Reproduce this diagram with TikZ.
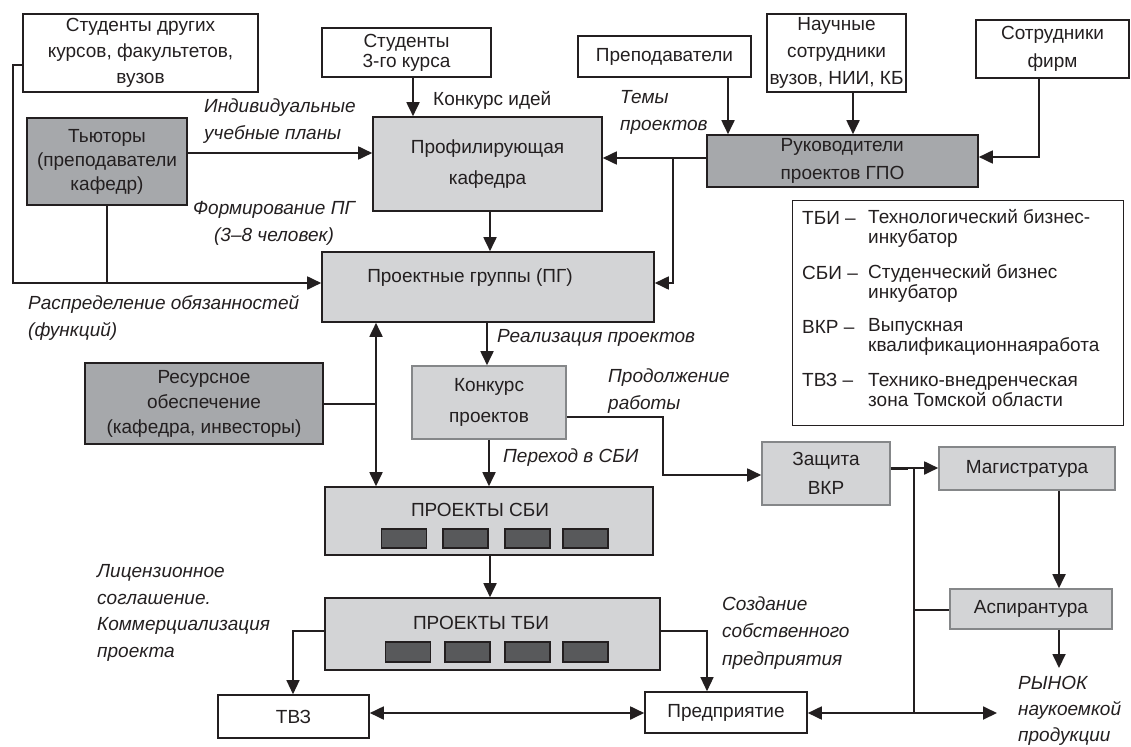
\documentclass[tikz,border=0pt]{standalone}
\usepackage{fontspec}
\setmainfont{Liberation Sans}
\usetikzlibrary{arrows.meta}
\definecolor{lg}{HTML}{D3D4D6}
\definecolor{dg}{HTML}{A6A8AB}
\definecolor{chipc}{HTML}{58595B}
\definecolor{ink}{HTML}{231F20}
\definecolor{gb}{HTML}{858789}
\begin{document}
\begin{tikzpicture}[x=1pt,y=-1pt,
  every node/.style={font=\fontsize{19}{24}\selectfont, text=ink},
  box/.style={draw=ink, line width=1.6pt, inner sep=0pt, align=center},
  lbox/.style={box, fill=lg},
  dbox/.style={box, fill=dg},
  gbox/.style={box, fill=lg, draw=gb},
  chip/.style={draw=ink, line width=1.3pt, fill=chipc, minimum width=45pt, minimum height=19pt, inner sep=0pt},
  conn/.style={draw=ink, line width=1.8pt},
  thin/.style={line width=1.3pt},
  arr/.style={conn, -{Triangle[length=14pt,width=13pt]}},
  arrb/.style={conn, {Triangle[length=14pt,width=13pt]}-{Triangle[length=14pt,width=13pt]}},
  lab/.style={font=\fontsize{19}{27}\selectfont\itshape, align=left, inner sep=0pt, anchor=west},
]
\useasboundingbox (0,0) rectangle (1131,746);

% top row
\node[box, minimum width=235pt, minimum height=78pt, font=\fontsize{19}{26}\selectfont] (sdr) at (140.5,53) {Студенты других\\курсов, факультетов,\\вузов};
\node[box, minimum width=169pt, minimum height=49pt, font=\fontsize{19}{20}\selectfont] (s3) at (406.5,52.5) {Студенты\\3-го курса};
\node[box, minimum width=173pt, minimum height=41pt] (prep) at (664.5,56.5) {Преподаватели};
\node[box, minimum width=139pt, minimum height=78pt, font=\fontsize{19}{27}\selectfont] (nauch) at (836.5,53) {Научные\\сотрудники\\вузов, НИИ, КБ};
\node[box, minimum width=153pt, minimum height=58pt, font=\fontsize{19}{28}\selectfont] (sotr) at (1052.5,49) {Сотрудники\\фирм};

% second row
\node[dbox, minimum width=160pt, minimum height=87pt, font=\fontsize{19}{24}\selectfont] (tut) at (107,161.5) {Тьюторы\\(преподаватели\\кафедр)};
\node[lbox, minimum width=229pt, minimum height=94pt, font=\fontsize{19}{31}\selectfont] (prof) at (487.5,164) {Профилирующая\\кафедра};
\node[dbox, minimum width=271pt, minimum height=52pt, font=\fontsize{19}{28}\selectfont, align=left] (ruk) at (842.5,161) {Руководители\\проектов ГПО};

% legend
\node[box, line width=1pt, minimum width=331pt, minimum height=225pt] (leg) at (957.5,312.5) {};
\node[anchor=west, inner sep=0pt] (la1) at (802,218) {ТБИ –};
\node[anchor=west, inner sep=0pt] (la2) at (802,273) {СБИ –};
\node[anchor=west, inner sep=0pt] (la3) at (802,327) {ВКР –};
\node[anchor=west, inner sep=0pt] (la4) at (802,380) {ТВЗ –};
\node[anchor=west, inner sep=0pt, align=left, font=\fontsize{19}{20}\selectfont] (ld1) at (868,228) {Технологический бизнес-\\инкубатор};
\node[anchor=west, inner sep=0pt, align=left, font=\fontsize{19}{20}\selectfont] (ld2) at (868,283) {Студенческий бизнес\\инкубатор};
\node[anchor=west, inner sep=0pt, align=left, font=\fontsize{19}{20}\selectfont] (ld3) at (868,337) {Выпускная\\квалификационнаяработа};
\node[anchor=west, inner sep=0pt, align=left, font=\fontsize{19}{20}\selectfont] (ld4) at (868,390) {Технико-внедренческая\\зона Томской области};

% middle
\node[lbox, minimum width=332pt, minimum height=70pt] (pg) at (488,287) {};
\node[inner sep=0pt] (pgt) at (470,278) {Проектные группы (ПГ)};
\node[dbox, minimum width=238pt, minimum height=81pt, font=\fontsize{19}{25}\selectfont] (res) at (204,403.5) {Ресурсное\\обеспечение\\(кафедра, инвесторы)};
\node[gbox, minimum width=154pt, minimum height=73pt, font=\fontsize{19}{31}\selectfont] (konk) at (489,402.5) {Конкурс\\проектов};
\node[gbox, minimum width=128pt, minimum height=63pt, font=\fontsize{19}{29}\selectfont] (zash) at (826,473.5) {Защита\\ВКР};
\node[gbox, minimum width=176pt, minimum height=43pt] (mag) at (1027,468.5) {Магистратура};
\node[gbox, minimum width=162pt, minimum height=40pt] (asp) at (1031,609) {Аспирантура};

% projects
\node[lbox, minimum width=328pt, minimum height=68pt] (sbi) at (489,521) {};
\node[inner sep=0pt] (sbit) at (480,510) {ПРОЕКТЫ СБИ};
\node[chip] (c1) at (404,538.5) {};
\node[chip] (c2) at (465.5,538.5) {};
\node[chip] (c3) at (527.5,538.5) {};
\node[chip] (c4) at (585.5,538.5) {};
\node[lbox, minimum width=335pt, minimum height=72pt] (tbi) at (492.5,634) {};
\node[inner sep=0pt] (tbit) at (481,623) {ПРОЕКТЫ ТБИ};
\node[chip, minimum height=20pt] (d1) at (408,652) {};
\node[chip, minimum height=20pt] (d2) at (467.5,652) {};
\node[chip, minimum height=20pt] (d3) at (527.5,652) {};
\node[chip, minimum height=20pt] (d4) at (585.5,652) {};

% bottom
\node[box, minimum width=151pt, minimum height=43pt] (tvz) at (293.5,716.5) {ТВЗ};
\node[box, minimum width=162pt, minimum height=41pt] (pred) at (726,712.5) {Предприятие};
\node[lab, font=\fontsize{19}{26}\selectfont\itshape] (rynok) at (1018,711) {РЫНОК\\наукоемкой\\продукции};

% labels
\node[lab] (l1) at (204,121) {Индивидуальные\\учебные планы};
\node[anchor=west, inner sep=0pt] (l2) at (433,100) {Конкурс идей};
\node[lab] (l3) at (620,112) {Темы\\проектов};
\node[lab, align=center, anchor=center] (l4) at (274,223) {Формирование ПГ\\(3–8 человек)};
\node[lab] (l5) at (28,318) {Распределение обязанностей\\(функций)};
\node[lab] (l6) at (497,338) {Реализация проектов};
\node[lab] (l7) at (608,391) {Продолжение\\ работы};
\node[lab] (l8) at (503,458) {Переход в СБИ};
\node[lab, font=\fontsize{19}{26.7}\selectfont\itshape] (l9) at (97,613) {Лицензионное\\соглашение.\\Коммерциализация\\проекта};
\node[lab, font=\fontsize{19}{27.5}\selectfont\itshape] (l10) at (722,633) {Создание\\собственного\\предприятия};

% junction coordinates
\coordinate (jr) at (673,158);
\coordinate (jv) at (914,468);
\coordinate (mk) at (997,713);
\coordinate (rk) at (1059,668);

% connectors
\draw[arr] (sdr.west |- 0,65) -- (13,65) -- (13,283) -- (pg.west |- 0,283);
\draw[conn] (tut.south) -- (tut.south |- 0,283);
\draw[arr] (tut.east |- 0,153) -- (prof.west |- 0,153);
\draw[arr] (s3.south -| 413,0) -- (prof.north -| 413,0);
\draw[arr] (prof.south -| 490,0) -- (pg.north -| 490,0);
\draw[arr] (prep.south -| 728,0) -- (ruk.north -| 728,0);
\draw[arr] (nauch.south -| 853,0) -- (ruk.north -| 853,0);
\draw[arr] (sotr.south -| 1039,0) |- (ruk.east |- 0,157);
\draw[arr] (ruk.west |- 0,158) -- (prof.east |- 0,158);
\draw[arr] (jr) |- (pg.east |- 0,283);
\draw[arr] (pg.south -| 487,0) -- (konk.north -| 487,0);
\draw[arrb] (pg.south -| 376,0) -- (sbi.north -| 376,0);
\draw[conn, thin] (res.east |- 0,404) -- (376,404);
\draw[arr] (konk.east |- 0,417) -- (663,417) |- (zash.west |- 0,475);
\draw[arr] (konk.south -| 489,0) -- (sbi.north -| 489,0);
\draw[arr] (zash.east |- 0,468) -- (mag.west |- 0,468);
\draw[draw=ink, line width=3pt] (zash.east |- 0,468) -- (908,468);
\draw[conn, thin] (jv) -- (914,713);
\draw[conn, thin] (914,610) -- (asp.west |- 0,610);
\draw[arr] (mag.south -| 1059,0) -- (asp.north -| 1059,0);
\draw[arr] (asp.south -| 1059,0) -- (rk);
\draw[arrb] (pred.east |- 0,713) -- (mk);
\draw[arrb] (tvz.east |- 0,713) -- (pred.west |- 0,713);
\draw[arr] (sbi.south -| 490,0) -- (tbi.north -| 490,0);
\draw[arr, thin] (tbi.west |- 0,631) -| (tvz.north -| 293,0);
\draw[arr, thin] (tbi.east |- 0,631) -| (pred.north -| 707,0);
\end{tikzpicture}
\end{document}
